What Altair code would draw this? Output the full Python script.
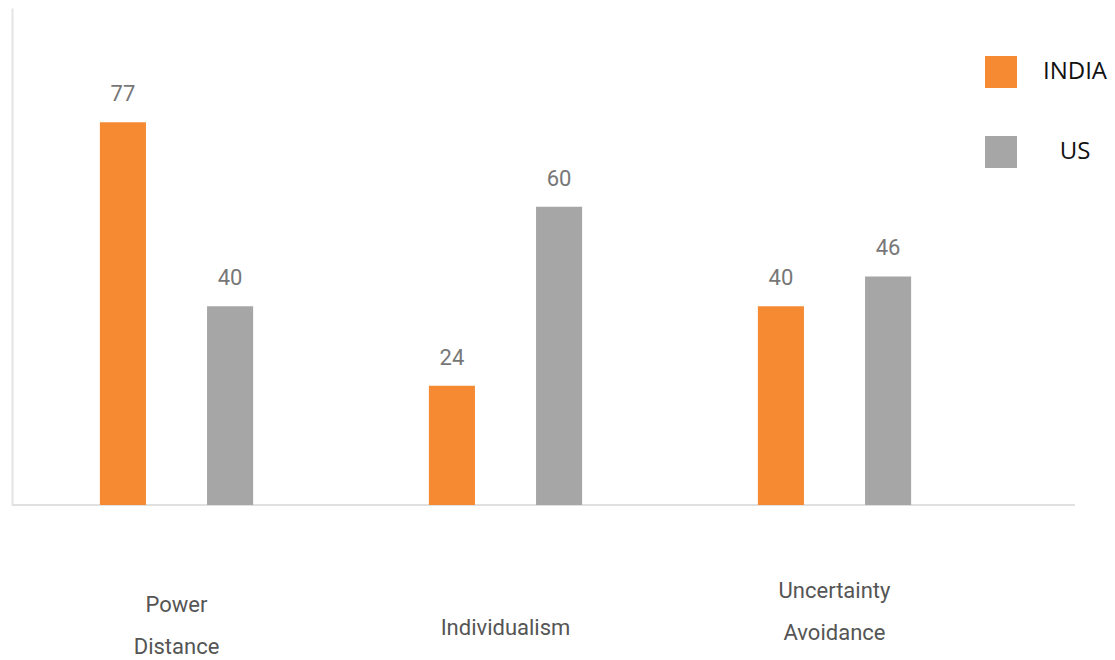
import altair as alt
import pandas as pd

categories = ["Power Distance", "Individualism", "Uncertainty Avoidance"]
india = [77, 24, 40]
us = [40, 60, 46]
series = ["INDIA", "US"]

rows = []
for c, a, b in zip(categories, india, us):
    rows.append({"dim": c, "country": "INDIA", "value": a})
    rows.append({"dim": c, "country": "US", "value": b})
df = pd.DataFrame(rows)

expr = "split({'Power Distance':'Power|Distance','Individualism':'Individualism','Uncertainty Avoidance':'Uncertainty|Avoidance'}[datum.label], '|')"
pad_expr = "datum.value == 'Individualism' ? 122 : (datum.value == 'Power Distance' ? 99 : 85)"

x_enc = alt.X(
    "dim:N",
    sort=categories,
    scale=alt.Scale(paddingInner=0, paddingOuter=0),
    axis=alt.Axis(
        title=None,
        domain=False,
        ticks=False,
        labelAngle=0,
        labelFont="Roboto",
        labelFontSize=22,
        labelColor="#555555",
        labelPadding=alt.ExprRef(pad_expr),
        labelBaseline="middle",
        labelLineHeight=42,
        labelExpr=expr,
    ),
)
xoff = alt.XOffset(
    "country:N",
    sort=series,
    scale=alt.Scale(paddingInner=0.57, paddingOuter=0.82),
)
y_enc = alt.Y(
    "value:Q",
    scale=alt.Scale(domain=[0, 100], nice=False),
    axis=alt.Axis(
        title=None,
        labels=False,
        ticks=False,
        grid=False,
        domain=True,
        domainColor="#e4e4e4",
        domainWidth=2,
    ),
)

base = alt.Chart(df)

bars = base.mark_bar().encode(
    x=x_enc,
    xOffset=xoff,
    y=y_enc,
    color=alt.Color(
        "country:N",
        sort=series,
        scale=alt.Scale(domain=series, range=["#F58A33", "#A6A6A6"]),
        legend=alt.Legend(
            title=None,
            orient="none",
            legendX=973,
            legendY=48,
            symbolType="square",
            symbolSize=1024,
            symbolStrokeWidth=0,
            symbolOpacity=1,
            labelFont="Open Sans",
            labelFontSize=24,
            labelColor="#111111",
            labelAlign="center",
            labelOffset=58,
            rowPadding=48,
            padding=0,
        ),
    ),
)

texts = base.mark_text(
    baseline="bottom", dy=-16, font="Roboto", fontSize=22, color="#777777"
).encode(
    x=alt.X("dim:N", sort=categories),
    xOffset=alt.XOffset("country:N", sort=series),
    y="value:Q",
    text="value:Q",
)

baseline_df = pd.DataFrame({"v": [0]})
rule = alt.Chart(baseline_df).mark_rule(color="#e0e0e0", strokeWidth=2).encode(
    y="v:Q", x=alt.value(0), x2=alt.value(1063)
)

chart = (
    alt.layer(rule, bars, texts)
    .properties(
        width=987,
        height=497,
        autosize=alt.AutoSizeParams(type="none"),
        padding={"left": 12, "top": 8, "right": 116, "bottom": 155},
        background="white",
    )
    .configure_view(strokeWidth=0, stroke="transparent")
)

chart.save("out.html", embed_options={"renderer": "svg", "actions": False})
